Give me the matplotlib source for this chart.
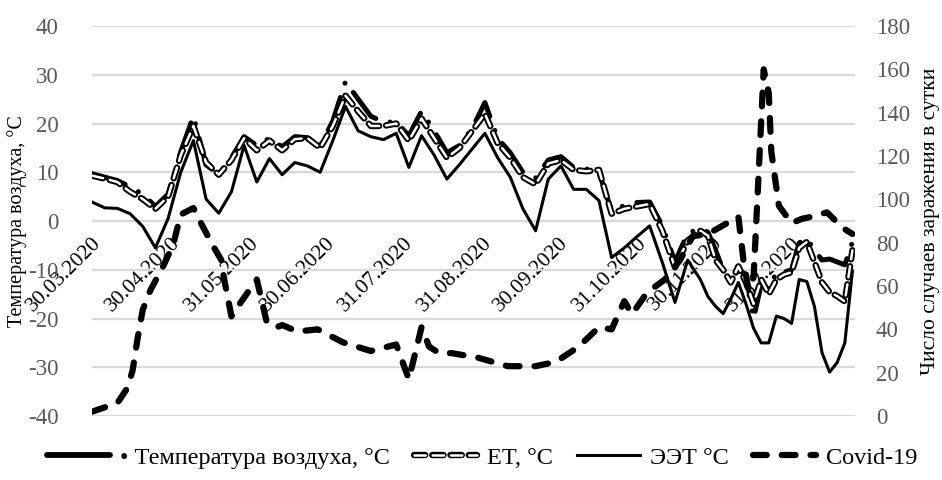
import numpy as np
import matplotlib
matplotlib.use("Agg")
import matplotlib.pyplot as plt
import matplotlib.patheffects as pe
import matplotlib.dates as mdates
from matplotlib.lines import Line2D

# -----------------------------
# Data (days counted from 30.03.2020)
# -----------------------------
start = np.datetime64("2020-03-30")

weather_days = [0, 5, 10, 15, 20, 25, 30, 35, 40, 45, 50, 55, 60, 65, 70, 75, 80, 85, 90, 95,
                100, 105, 110, 115, 120, 125, 130, 135, 140, 145, 150, 155, 160, 165, 170, 175,
                180, 185, 190, 195, 200, 205, 210, 215, 220, 225, 230, 235, 240, 243, 246, 249,
                252, 255, 258, 261, 264, 267, 270, 273, 276, 279, 282, 285, 288, 291, 294, 297, 300]

air_temp = [9.7, 9.0, 8.3, 7.0, 5.5, 3.0, 5.5, 14.2, 21.5, 11.5, 9.7, 13.0, 17.3, 15.5, 17.0, 15.2,
            17.3, 17.1, 15.4, 20.5, 28.6, 25.0, 21.5, 20.3, 20.3, 17.5, 22.5, 18.5, 14.0, 15.5,
            19.0, 24.3, 17.0, 14.0, 10.0, 8.8, 12.5, 13.2, 11.0, 10.7, 10.0, 2.0, 3.2, 3.8, 3.9,
            -1.0, -8.4, -2.5, -1.5, -2.3, -6.0, -10.0, -12.3, -10.0, -11.0, -20.0, -13.0, -14.0,
            -10.5, -10.5, -10.0, -4.5, -3.5, -6.0, -8.0, -7.8, -8.4, -9.0, -4.3]

et_temp = [9.3, 8.7, 8.0, 6.0, 4.5, 2.5, 5.0, 13.5, 19.5, 12.0, 9.5, 12.5, 17.0, 14.5, 16.5, 14.5,
           16.8, 17.0, 15.0, 19.5, 25.7, 22.5, 19.5, 19.5, 20.0, 16.5, 21.0, 17.0, 13.0, 15.0,
           18.5, 22.0, 16.0, 13.0, 9.0, 7.5, 11.8, 12.5, 10.5, 10.2, 10.5, 1.5, 2.5, 3.0, 3.5,
           -2.0, -9.5, -4.0, -2.0, -3.0, -8.0, -10.0, -12.6, -9.3, -12.6, -17.0, -12.0, -15.0,
           -12.0, -11.0, -10.5, -5.5, -4.3, -8.4, -12.6, -14.6, -15.4, -16.5, -6.0]

eet_temp = [3.9, 2.7, 2.6, 1.5, -1.1, -5.5, 0.5, 10.0, 16.5, 4.5, 1.6, 6.0, 15.5, 8.0, 12.8, 9.5,
            12.0, 11.3, 10.0, 16.5, 23.5, 18.5, 17.3, 16.7, 18.0, 11.0, 17.5, 13.5, 8.6, 11.6,
            14.8, 18.0, 13.0, 9.0, 2.5, -2.0, 8.6, 11.3, 6.5, 6.5, 4.2, -7.5, -5.5, -3.2, -1.0,
            -8.5, -16.7, -8.0, -12.0, -15.5, -17.5, -19.0, -16.0, -12.6, -17.0, -22.0, -25.0,
            -25.0, -19.5, -20.0, -21.0, -12.0, -12.4, -17.5, -27.0, -31.0, -29.0, -25.0, -10.3]

covid_days = [0, 10, 14, 16, 18, 20, 23, 28, 32, 35, 40, 43, 48, 51, 52, 55, 59, 65, 69, 73, 75,
              81, 89, 99, 110, 120, 125, 130, 133, 137, 142, 152, 164, 175, 183, 192, 200, 205,
              210, 213, 219, 226, 232, 237, 243, 252, 255, 257, 259, 261, 265, 267, 268, 271,
              276, 280, 284, 290, 296, 300]

covid_cases = [2, 6, 13, 21, 36, 49, 58, 69, 79, 93, 96, 89, 78, 72, 64, 46, 53, 63, 43, 41, 42,
               39, 40, 34, 30, 33, 17, 41, 32, 29, 29, 27, 23, 23, 25, 32, 41, 40, 53, 47, 57, 63,
               72, 83, 84, 90, 92, 72, 58, 64, 160, 149, 122, 97, 89, 91, 92, 94, 87, 84]

tick_dates = ["2020-03-30", "2020-04-30", "2020-05-31", "2020-06-30", "2020-07-31",
              "2020-08-31", "2020-09-30", "2020-10-31", "2020-11-30", "2020-12-31"]

legend_labels = ["• Температура воздуха, °C", "ET, °C", "ЭЭТ °C", "Covid-19"]

# -----------------------------
# Plot
# -----------------------------
plt.rcParams["font.family"] = ["Liberation Serif", "DejaVu Serif"]
plt.rcParams["axes.unicode_minus"] = False

wx = start + np.array(weather_days)
cx = start + np.array(covid_days)
ticks = np.array(tick_dates, dtype="datetime64[D]")

fig = plt.figure(figsize=(9.42, 4.8), dpi=100)
ax = fig.add_axes([0.0977, 0.1333, 0.8099, 0.8125])
ax2 = ax.twinx()

grey = "#595959"
et_outline = [pe.Stroke(linewidth=4.6, foreground="black"), pe.Normal()]

l_eet, = ax.plot(wx, eet_temp, color="black", lw=2.2, solid_joinstyle="round", zorder=3)
l_air, = ax.plot(wx, air_temp, color="black", lw=3.6, dashes=(7, 3, 0.01, 3),
                 dash_capstyle="round", dash_joinstyle="round", zorder=4)
l_et, = ax.plot(wx, et_temp, color="white", lw=1.8, dashes=(4.5, 2.8),
                dash_capstyle="round", zorder=5, path_effects=et_outline)
l_cov, = ax2.plot(cx, covid_cases, color="black", lw=4.5, dashes=(2.2, 2.4),
                  dash_capstyle="round")

ax.set_ylim(-40, 40)
ax.set_yticks(np.arange(-40, 41, 10))
ax2.set_ylim(0, 180)
ax2.set_yticks(np.arange(0, 181, 20))
ax.set_xlim(start, start + np.timedelta64(301, "D"))

ax.grid(axis="y", color="#d9d9d9", lw=1.6)
ax.set_axisbelow(True)

for a in (ax, ax2):
    for s in a.spines.values():
        s.set_visible(False)
ax.tick_params(axis="y", length=0, labelsize=16.5, labelcolor=grey, pad=24)
ax2.tick_params(axis="y", length=0, labelsize=16.5, labelcolor=grey, pad=15)

# date labels sit on the zero line of the temperature axis
ax.spines["bottom"].set_position(("data", 0))
ax.set_xticks(ticks)
ax.xaxis.set_major_formatter(mdates.DateFormatter("%d.%m.%Y"))
ax.tick_params(axis="x", length=0, labelsize=15.5, pad=9)
plt.setp(ax.get_xticklabels(), rotation=45, ha="right", rotation_mode="anchor")

ax.set_ylabel("Температура воздуха, °C", fontsize=14.5, labelpad=1)
ax2.set_ylabel("Число случаев заражения в сутки", fontsize=15.5, rotation=90, labelpad=8)

# legend: thick solid stroke for air temperature, the dot sits in its label
air_handle = Line2D([], [], color="black", lw=4.2, solid_capstyle="round")
fig.legend([air_handle, l_et, l_eet, l_cov], legend_labels, loc="center",
           bbox_to_anchor=(0.512, 0.046), ncol=4, frameon=False, fontsize=17.5,
           handlelength=2.6, columnspacing=1.0, handletextpad=0.4)

fig.savefig("out.png", dpi=100)
